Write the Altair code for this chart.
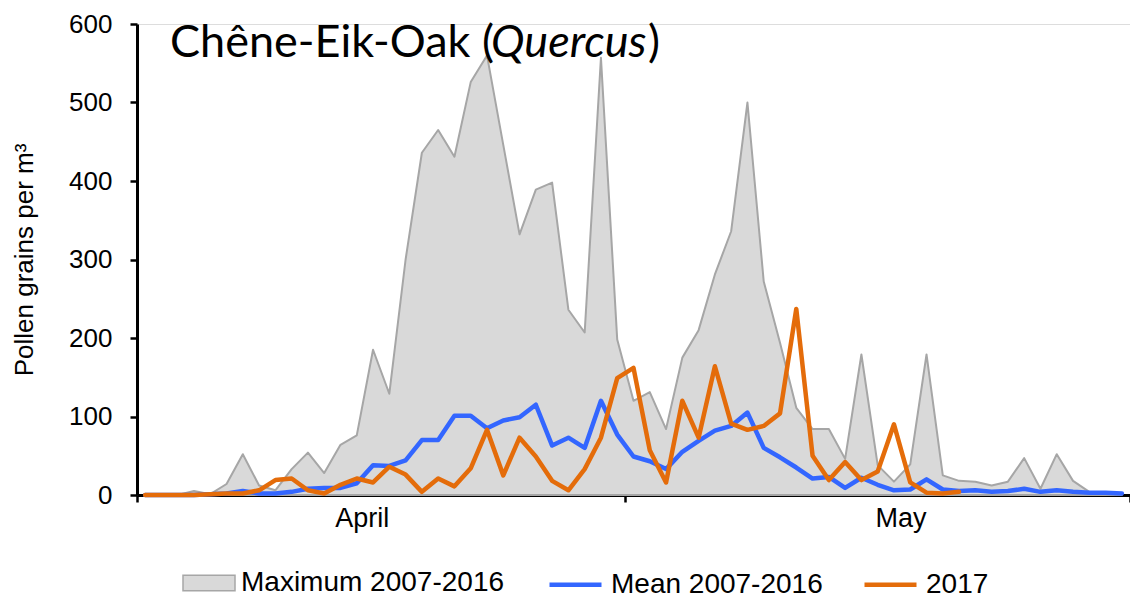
import altair as alt
import pandas as pd

# Day index 0 = 1 April ... 60 = 31 May
days = list(range(61))

max_2007_2016 = [0, 0, 0, 5, 1, 14, 52, 12, 6, 33,
                 54, 28, 64, 76, 185, 129, 300, 436, 465, 431,
                 526, 560, 446, 332, 389, 398, 236, 207, 557, 198,
                 120, 131, 84, 175, 210, 281, 336, 500, 272, 194,
                 111, 84, 84, 46, 179, 38, 17, 39, 179, 25,
                 18, 17, 12, 17, 47, 8, 52, 18, 4, 0, 0]

mean_2007_2016 = [0, 0, 0, 0, 1, 2, 5, 2, 2, 4,
                  8, 9, 9, 15, 38, 37, 44, 70, 70, 101,
                  101, 85, 95, 99, 115, 63, 73, 60, 120, 77,
                  49, 43, 33, 55, 69, 82, 88, 105, 60, 48,
                  35, 21, 23, 9, 22, 13, 6, 7, 20, 7,
                  5, 6, 4, 5, 8, 4, 6, 4, 3, 3, 2]

pollen_2017 = [0, 0, 0, 0, 1, 2, 2, 6, 19, 21,
               6, 2, 13, 21, 16, 36, 26, 4, 21, 11,
               34, 83, 25, 73, 49, 18, 6, 33, 73, 149,
               162, 57, 16, 120, 73, 164, 91, 83, 88, 104,
               237, 50, 19, 42, 19, 30, 90, 16, 3, 2, 4]

series_names = ["Maximum 2007-2016", "Mean 2007-2016", "2017"]
series_colors = ["#d9d9d9", "#3366ff", "#e46c0a"]

month_labels = ["April", "May"]
month_label_pos = [13.3, 46.4]
month_bounds = [-0.5, 29.5, 60.5]

max_df = pd.DataFrame({"day": days, "value": max_2007_2016, "series": series_names[0]})
lines_df = pd.concat([
    pd.DataFrame({"day": days, "value": mean_2007_2016, "series": series_names[1]}),
    pd.DataFrame({"day": days[:len(pollen_2017)], "value": pollen_2017, "series": series_names[2]}),
], ignore_index=True)

FONT = "Liberation Sans"

x_scale = alt.Scale(domain=[-0.5, 60.5], nice=False, zero=False)
y_scale = alt.Scale(domain=[0, 600], nice=False)

label_expr = ("datum.value == %s ? '%s' : datum.value == %s ? '%s' : ''"
              % (month_label_pos[0], month_labels[0], month_label_pos[1], month_labels[1]))

x_axis = alt.Axis(
    values=sorted(month_bounds + month_label_pos),
    labelExpr=label_expr,
    tickOpacity={"condition": {"test": "datum.value == %s || datum.value == %s"
                               % (month_label_pos[0], month_label_pos[1]), "value": 0},
                 "value": 1},
    tickSize=7, tickWidth=2.5, tickColor="black",
    domainColor="black", domainWidth=3,
    labelFont=FONT, labelFontSize=27, labelColor="black", labelPadding=3,
    labelOverlap=False, labelFlush=False,
    grid=False, title=None,
)

y_axis = alt.Axis(
    values=[0, 100, 200, 300, 400, 500, 600],
    tickSize=7, tickWidth=2.5, tickColor="black",
    domainColor="black", domainWidth=3,
    labelFont=FONT, labelFontSize=26, labelColor="black", labelPadding=18,
    grid=False,
    title="Pollen grains per m³", titleFont=FONT, titleFontSize=26,
    titleFontWeight="normal", titleColor="black", titlePadding=31,
)

LEG_Y = 532
fill_legend = alt.Legend(
    orient="none", legendX=45, legendY=LEG_Y, title=None, padding=0,
    symbolType="M-1,-0.3H1V0.3H-1Z", symbolSize=2704,
    symbolStrokeColor="#a6a6a6", symbolStrokeWidth=1.5,
    labelFont=FONT, labelFontSize=28, labelColor="black", labelOffset=5,
    labelLimit=400,
)

stroke_legend = alt.Legend(
    orient="none", legendX=410, legendY=LEG_Y, title=None, padding=0,
    direction="horizontal", columnPadding=32,
    symbolType="M-1,0H1", symbolSize=2704, symbolStrokeWidth=4.5,
    labelFont=FONT, labelFontSize=28, labelColor="black", labelOffset=7,
    labelLimit=400,
)

x_enc = alt.X("day:Q", scale=x_scale, axis=x_axis)
y_enc = alt.Y("value:Q", scale=y_scale, axis=y_axis)

area = alt.Chart(max_df).mark_area(stroke="#a6a6a6", strokeWidth=2, strokeJoin="round").encode(
    x=x_enc, y=y_enc,
    fill=alt.Fill("series:N", scale=alt.Scale(domain=[series_names[0]], range=[series_colors[0]]),
                  legend=fill_legend),
)

stroke_scale = alt.Scale(domain=series_names[1:], range=series_colors[1:])

mean_line = alt.Chart(lines_df).transform_filter(
    alt.datum.series == series_names[1]
).mark_line(strokeWidth=4.5, strokeJoin="round", strokeCap="round").encode(
    x=x_enc, y=y_enc,
    stroke=alt.Stroke("series:N", scale=stroke_scale, legend=stroke_legend),
)

line_2017 = alt.Chart(lines_df).transform_filter(
    alt.datum.series == series_names[2]
).mark_line(strokeWidth=4.5, strokeJoin="round", strokeCap="round").encode(
    x=x_enc, y=y_enc,
    stroke=alt.Stroke("series:N", scale=stroke_scale, legend=stroke_legend),
)

one = pd.DataFrame({"k": [0]})
TITLE_FONT = "Lato"
TITLE_SIZE = 45
title_a = alt.Chart(one).mark_text(text="Chêne-Eik-Oak (", font=TITLE_FONT, fontSize=TITLE_SIZE,
                                   align="right", baseline="alphabetic", color="black").encode(
    x=alt.value(357), y=alt.value(33))
title_b = alt.Chart(one).mark_text(text="Quercus", font=TITLE_FONT, fontSize=TITLE_SIZE,
                                   fontStyle="italic", align="left", baseline="alphabetic",
                                   color="black").encode(
    x=alt.value(354), y=alt.value(33))
title_c = alt.Chart(one).mark_text(text=")", font=TITLE_FONT, fontSize=TITLE_SIZE,
                                   align="left", baseline="alphabetic", color="black").encode(
    x=alt.value(511), y=alt.value(33))

chart = alt.layer(area, mean_line, line_2017, title_a, title_b, title_c).properties(
    width=993, height=471,
    padding={"left": 129, "top": 16, "right": 0, "bottom": 103},
    autosize=alt.AutoSizeParams(type="none"),
).configure_view(stroke=None).configure(background="white")

chart.save("out.html", embed_options={"renderer": "svg", "actions": False})
